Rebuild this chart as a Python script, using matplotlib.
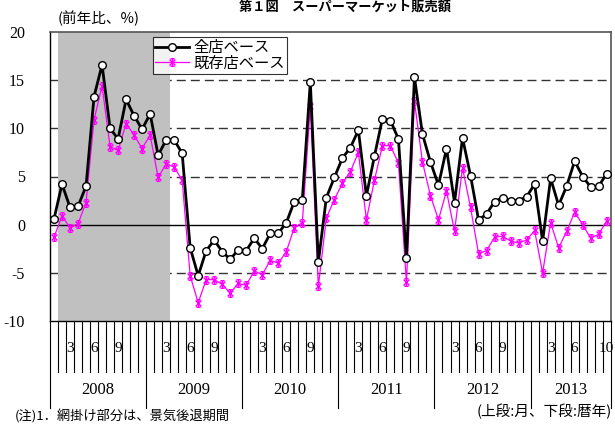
import matplotlib
matplotlib.use("Agg")
import matplotlib.pyplot as plt
import numpy as np
from matplotlib.path import Path

plt.rcParams['font.family'] = ['Liberation Serif', 'Noto Sans CJK JP']
plt.rcParams['lines.scale_dashes'] = False

# Data: Jan 2008 .. Oct 2013 (monthly, YoY %)
all_store = [0.6, 4.2, 1.8, 1.9, 4.0, 13.3, 16.6, 10.0, 8.9, 13.0, 11.3, 9.9,
             11.5, 7.2, 8.8, 8.8, 7.4, -2.4, -5.3, -2.7, -1.6, -2.8, -3.6, -2.6,
             -2.7, -1.4, -2.5, -0.9, -0.9, 0.2, 2.4, 2.6, 14.8, -3.9, 2.8, 4.9,
             6.9, 8.0, 9.8, 3.0, 7.1, 11.0, 10.8, 8.9, -3.5, 15.3, 9.4, 6.5,
             4.1, 7.9, 2.3, 9.0, 5.1, 0.5, 1.1, 2.4, 2.8, 2.5, 2.5, 2.9,
             4.2, -1.7, 4.8, 2.0, 4.0, 6.6, 5.0, 3.9, 4.0, 5.3]
existing = [-1.3, 0.9, -0.3, 0.1, 2.3, 10.9, 14.4, 8.1, 7.7, 10.5, 9.3, 7.9,
            9.3, 4.9, 6.3, 6.0, 4.6, -5.3, -8.1, -5.7, -5.7, -6.2, -7.1, -6.1,
            -6.3, -4.8, -5.2, -3.7, -4.0, -2.8, -0.3, 0.2, 12.3, -6.4, 0.7, 2.6,
            4.3, 5.5, 7.5, 0.5, 4.6, 8.2, 8.2, 6.4, -6.0, 12.8, 6.5, 3.0,
            0.5, 3.5, -0.7, 5.9, 1.8, -3.0, -2.7, -1.3, -1.2, -1.7, -1.9, -1.6,
            -0.6, -5.0, 0.2, -2.4, -0.7, 1.3, 0.0, -1.4, -1.0, 0.4]
years = ['2008', '2009', '2010', '2011', '2012', '2013']
month_labels = {2008: ['3', '6', '9'], 2009: ['3', '6', '9'], 2010: ['3', '6', '9'],
                2011: ['3', '6', '9'], 2012: ['3', '6', '9'], 2013: ['3', '6', '10']}
yticks = [20, 15, 10, 5, 0, -5, -10]
recession = (1, 14)  # Feb 2008 .. Mar 2009 (month index)

n = len(all_store)
x = np.arange(n)

fig = plt.figure(figsize=(6.15, 4.25), dpi=100)
L, R, T, B = 50, 610.7, 32, 321
W, H = 615, 425
ax = fig.add_axes([L / W, (H - B) / H, (R - L) / W, (B - T) / H])
ax.set_xlim(-0.5, n - 0.5)
ax.set_ylim(-10, 20)

# recession shading
ax.axvspan(recession[0] - 0.5, recession[1] + 0.5, color='#C0C0C0', zorder=1, lw=0)
# gridlines
for v in [15, 10, 5, -5]:
    ax.axhline(v, color='#333333', lw=1.0, ls=(0, (6.5, 3.6)), zorder=0.5)
ax.axhline(0, color='black', lw=1.0, zorder=2)

# star marker: x plus vertical line
star = Path([(-1, -1), (1, 1), (-1, 1), (1, -1), (0, -1.3), (0, 1.3), (-0.7, 1.3), (0.7, 1.3), (-0.7, -1.3), (0.7, -1.3)],
            [Path.MOVETO, Path.LINETO, Path.MOVETO, Path.LINETO, Path.MOVETO, Path.LINETO,
             Path.MOVETO, Path.LINETO, Path.MOVETO, Path.LINETO])

l2, = ax.plot(x, existing, color='#FF00FF', lw=0.9, marker=star, ms=5.5, mew=1.0,
              mec='#FF00FF', mfc='none', zorder=3, label='既存店ベース')
l1, = ax.plot(x, all_store, color='black', lw=2.0, marker='o', ms=5.5, mfc='white',
              mec='black', mew=1.0, zorder=4, label='全店ベース')

ax.set_xticks([])
ax.set_yticks(yticks)
ax.set_yticklabels([str(v) for v in yticks], fontsize=11.5)
ax.tick_params(axis='y', length=0, pad=18)
for sp in ['top', 'right']:
    ax.spines[sp].set_color('#555555')
    ax.spines[sp].set_linewidth(1.2)
for sp in ['left', 'bottom']:
    ax.spines[sp].set_color('black')
    ax.spines[sp].set_linewidth(1.0)

# month ticks and year dividers below the axis
trans = ax.get_xaxis_transform()
h = B - T
for i in range(1, n):
    if i % 12 == 0:
        ax.plot([i - 0.5, i - 0.5], [0, -87 / h], color='black', lw=0.8, transform=trans, clip_on=False)
    else:
        ax.plot([i - 0.5, i - 0.5], [0, -51 / h], color='black', lw=0.8, transform=trans, clip_on=False)
ax.plot([-0.5, -0.5], [0, -87 / h], color='black', lw=0.8, transform=trans, clip_on=False)
ax.plot([n - 0.5, n - 0.5], [0, -87 / h], color='black', lw=0.8, transform=trans, clip_on=False)

for k, yr in enumerate(years):
    for lab in month_labels[int(yr)]:
        idx = 12 * k + int(lab) - 1
        if idx < n:
            ax.text(idx, -28 / h, lab, transform=trans, ha='center', va='center', fontsize=11)
    start = 12 * k - 0.5
    end = min(12 * k + 11.5, n - 0.5)
    ax.text((start + end) / 2, -69 / h, yr, transform=trans, ha='center', va='center', fontsize=12)

leg = ax.legend(handles=[l1, l2], loc='upper left', bbox_to_anchor=((153 - L) / (R - L), (B - 37) / h),
                frameon=True, fancybox=False, edgecolor='black',
                prop={'family': ['Noto Sans CJK JP'], 'size': 11},
                handlelength=2.2, handletextpad=0.3, borderpad=0.15, labelspacing=-0.1, borderaxespad=0)
leg.get_frame().set_linewidth(0.8)
leg.set_zorder(5)

# title (cropped at top edge in the reference; shrunk here to stay visible)
fig.text(345 / W, 1 - 7 / H, '第１図　スーパーマーケット販売額', fontsize=9.5, fontweight='bold',
         va='center', ha='center', family=['Noto Sans CJK JP'])
fig.text(58 / W, 1 - 18 / H, '(前年比、%)', fontsize=10.5, va='center', ha='left',
         family=['Noto Sans CJK JP'])
fig.text(612 / W, 1 - 411 / H, '(上段:月、下段:暦年)', fontsize=10.5, va='center', ha='right',
         family=['Noto Sans CJK JP'])
fig.text(15 / W, 1 / H, '(注)1．網掛け部分は、景気後退期間', fontsize=9.5, va='bottom', ha='left',
         family=['Noto Sans CJK JP'])

fig.savefig('out.png', dpi=100)
